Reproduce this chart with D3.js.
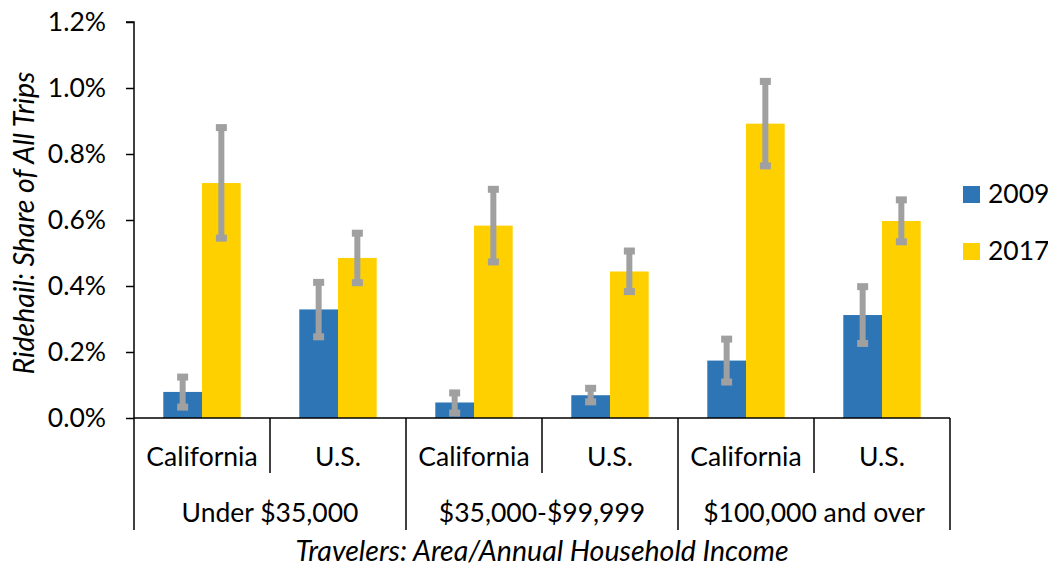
<!DOCTYPE html>
<html>
<head>
<meta charset="utf-8">
<script src="https://cdn.jsdelivr.net/npm/d3@7"></script>
<style>
    body { margin: 0; background: #fff; }
    svg text { font-family: Lato, "Open Sans", sans-serif; fill: #000; }
</style>
</head>
<body>
<svg id="ridehail" width="1048" height="568"></svg>
<script>
/** Chart data **/
var areas       = ["California", "U.S.", "California", "U.S.", "California", "U.S."];
var incomes     = ["Under $35,000", "$35,000-$99,999", "$100,000 and over"];
var years       = ["2009", "2017"];
var yTicks      = [0, 0.2, 0.4, 0.6, 0.8, 1.0, 1.2];

// share of all trips, in percent
var share2009   = [0.079, 0.329, 0.047, 0.069, 0.174, 0.312];
var share2017   = [0.712, 0.485, 0.583, 0.444, 0.892, 0.597];

// error bar ends (low, high), in percent
var low2009     = [0.033, 0.246, 0.015, 0.049, 0.109, 0.226];
var high2009    = [0.124, 0.411, 0.076, 0.090, 0.239, 0.398];
var low2017     = [0.545, 0.410, 0.473, 0.383, 0.764, 0.534];
var high2017    = [0.880, 0.560, 0.693, 0.506, 1.020, 0.661];


function drawModule_ridehail()
{
    var chart_left   = 134;
    var chart_right  = 950;
    var chart_top    = 22;
    var chart_bottom = 418;
    var font_size    = 26.5;
    var title_size   = 28.5;

    var color_2009   = '#2E75B6';
    var color_2017   = '#FFD000';
    var color_err    = '#A0A0A0';

    var svg = d3.select("#ridehail");

    var rows = [];
    for (var i = 0; i < areas.length; i++)
    {
        rows.push({ key: i, year: "2009", value: share2009[i], lo: low2009[i], hi: high2009[i] });
        rows.push({ key: i, year: "2017", value: share2017[i], lo: low2017[i], hi: high2017[i] });
    }

    var xScale = d3.scaleBand()
        .domain(d3.range(areas.length))
        .range([chart_left, chart_right])
        .padding(0);

    var xInner = d3.scaleBand()
        .domain(years)
        .range([0, xScale.bandwidth()])
        .paddingInner(0)
        .paddingOuter(0.757);

    var yScale = d3.scaleLinear()
        .domain([0, 1.2])
        .range([chart_bottom, chart_top]);

    var colorScale = d3.scaleOrdinal()
        .domain(years)
        .range([color_2009, color_2017]);

    // Y axis
    var yAxis = d3.axisLeft(yScale)
        .tickValues(yTicks)
        .tickSize(8)
        .tickPadding(20)
        .tickFormat(function(d) { return d3.format(".1f")(d) + "%"; });

    var gy = svg.append("g")
        .attr("transform", "translate(" + chart_left + ",0)")
        .call(yAxis);
    gy.select(".domain").attr("stroke", "#000").attr("stroke-width", 1.5)
        .attr("d", "M-8," + yScale(1.2) + "H0V" + yScale(0));
    gy.selectAll(".tick line").attr("stroke", "#000").attr("stroke-width", 1.5);
    gy.selectAll(".tick text")
        .style("font-size", font_size + "px")
        .attr("fill", "#000");

    // bars
    svg.append("g")
        .selectAll("rect")
        .data(rows)
        .enter()
        .append("rect")
        .attr("x", function(d) { return xScale(d.key) + xInner(d.year); })
        .attr("y", function(d) { return yScale(d.value); })
        .attr("width", xInner.bandwidth())
        .attr("height", function(d) { return yScale(0) - yScale(d.value); })
        .style("fill", function(d) { return colorScale(d.year); });

    // error bars
    var errs = svg.append("g")
        .selectAll("g")
        .data(rows)
        .enter()
        .append("g")
        .attr("transform", function(d) {
            return "translate(" + (xScale(d.key) + xInner(d.year) + xInner.bandwidth() / 2) + ",0)";
        });

    errs.append("line")
        .attr("y1", function(d) { return yScale(d.lo); })
        .attr("y2", function(d) { return yScale(d.hi); })
        .attr("stroke", color_err)
        .attr("stroke-width", 6);

    errs.selectAll("rect")
        .data(function(d) { return [d.lo, d.hi]; })
        .enter()
        .append("rect")
        .attr("x", -5.5)
        .attr("y", function(v) { return yScale(v) - 3.5; })
        .attr("width", 11)
        .attr("height", 7)
        .style("fill", color_err);

    // X axis, two level category labels
    var gx = svg.append("g");

    gx.append("line")
        .attr("x1", chart_left).attr("x2", chart_right)
        .attr("y1", chart_bottom).attr("y2", chart_bottom)
        .attr("stroke", "#000").attr("stroke-width", 1.5);

    var seps = d3.range(areas.length + 1);
    gx.selectAll(".sep")
        .data(seps)
        .enter()
        .append("line")
        .attr("class", "sep")
        .attr("x1", function(i) { return i < areas.length ? xScale(i) : chart_right; })
        .attr("x2", function(i) { return i < areas.length ? xScale(i) : chart_right; })
        .attr("y1", chart_bottom)
        .attr("y2", function(i) { return i % 2 == 0 ? 530 : 473; })
        .attr("stroke", "#000").attr("stroke-width", 1.5);

    gx.selectAll(".area")
        .data(areas)
        .enter()
        .append("text")
        .attr("class", "area")
        .attr("x", function(d, i) { return xScale(i) + xScale.bandwidth() / 2; })
        .attr("y", 466)
        .attr("text-anchor", "middle")
        .style("font-size", font_size + "px")
        .text(function(d) { return d; });

    gx.selectAll(".income")
        .data(incomes)
        .enter()
        .append("text")
        .attr("class", "income")
        .attr("x", function(d, i) { return xScale(i * 2) + xScale.bandwidth(); })
        .attr("y", 522)
        .attr("text-anchor", "middle")
        .style("font-size", font_size + "px")
        .text(function(d) { return d; });

    // axis titles
    svg.append("text")
        .attr("x", (chart_left + chart_right) / 2)
        .attr("y", 561)
        .attr("text-anchor", "middle")
        .style("font-size", title_size + "px")
        .style("font-style", "italic")
        .text("Travelers: Area/Annual Household Income");

    svg.append("text")
        .attr("transform", "translate(34," + ((chart_top + chart_bottom) / 2 + 3) + ") rotate(-90)")
        .attr("text-anchor", "middle")
        .style("font-size", title_size + "px")
        .style("font-style", "italic")
        .text("Ridehail: Share of All Trips");

    // legend
    var legend = svg.append("g")
        .selectAll("g")
        .data(years)
        .enter()
        .append("g")
        .attr("transform", function(d, i) { return "translate(963," + (186 + i * 57) + ")"; });

    legend.append("rect")
        .attr("width", 17)
        .attr("height", 17)
        .style("fill", function(d) { return colorScale(d); });

    legend.append("text")
        .attr("x", 25)
        .attr("y", 17)
        .style("font-size", font_size + "px")
        .text(function(d) { return d; });
}

drawModule_ridehail();
</script>
</body>
</html>
